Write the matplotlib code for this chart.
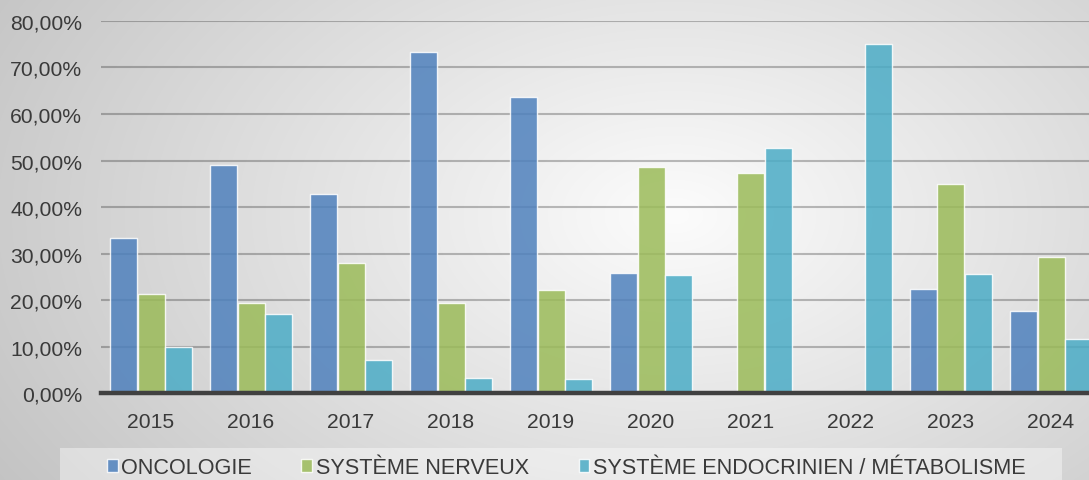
import numpy as np
import matplotlib
matplotlib.use("Agg")
import matplotlib.pyplot as plt
from matplotlib.patches import Rectangle, Patch
from matplotlib.ticker import FuncFormatter, MultipleLocator

years = ["2015", "2016", "2017", "2018", "2019", "2020", "2021", "2022", "2023", "2024"]
oncologie = [33.4, 49.1, 42.9, 73.3, 63.6, 25.8, 0.0, 0.0, 22.5, 17.7]
systeme_nerveux = [21.4, 19.5, 28.0, 19.5, 22.3, 48.6, 47.4, 0.0, 45.0, 29.3]
endocrinien = [10.0, 17.1, 7.1, 3.4, 3.1, 25.5, 52.6, 75.0, 25.6, 11.6]
series_labels = ["ONCOLOGIE", "SYSTÈME NERVEUX", "SYSTÈME ENDOCRINIEN / MÉTABOLISME"]
colors = ["#4f81bd", "#9bbb59", "#4bacc6"]

plt.rcParams["font.family"] = ["Liberation Sans", "DejaVu Sans"]
W, H = 1089, 481
fig = plt.figure(figsize=(W / 100, H / 100), dpi=100)

# radial grey background
bg = fig.add_axes([0, 0, 1, 1], zorder=-10)
xx, yy = np.meshgrid(np.linspace(0, 1, W), np.linspace(1, 0, H))
t = np.sqrt(((xx - 0.62) / 0.7) ** 2 + ((yy - 0.55) / 1.0) ** 2)
shade = np.clip(252 - 54 * t, 185, 252) / 255.0
bg.imshow(np.dstack([shade, shade, shade]), extent=[0, 1, 0, 1], aspect="auto")
bg.axis("off")

# legend panel
fig.patches.append(Rectangle((60 / W, 0), (1062 - 60) / W, 1 - 449 / H,
                             transform=fig.transFigure, facecolor="white",
                             alpha=0.4, edgecolor="none", zorder=-5))

left = 101 / W
bottom = 1 - 394.4 / H
top = 1 - 21.9 / H
ax = fig.add_axes([left, bottom, 1000 / W, top - bottom])
ax.patch.set_alpha(0)

x = np.arange(len(years))
width = 0.27
offset = 0.275
for i, vals in enumerate([oncologie, systeme_nerveux, endocrinien]):
    ax.bar(x + (i - 1) * offset, vals, width, color=colors[i], alpha=0.85,
           edgecolor=(1, 1, 1, 0.5), linewidth=1.0, zorder=3)

ax.set_xlim(-0.5, len(years) - 0.5)
ax.set_ylim(0, 80)
ax.yaxis.set_major_locator(MultipleLocator(10))
ax.yaxis.set_major_formatter(FuncFormatter(lambda v, p: f"{v:.2f}".replace(".", ",") + "%"))
ax.grid(axis="y", color="black", alpha=0.25, linewidth=1.5, zorder=0)
ax.set_axisbelow(True)
ax.set_xticks(x)
ax.set_xticklabels(years)
ax.tick_params(axis="both", length=0, labelsize=15.2, colors="#3a3a3a")
ax.tick_params(axis="y", pad=13.5)
ax.tick_params(axis="x", pad=13.5)
for s in ["left", "right", "top"]:
    ax.spines[s].set_visible(False)
ax.spines["bottom"].set_color("#404040")
ax.spines["bottom"].set_linewidth(3.2)
ax.spines["bottom"].set_zorder(5)

handles = [Patch(facecolor=c, alpha=0.85, edgecolor=(1, 1, 1, 0.5)) for c in colors]
fig.legend(handles, series_labels, loc="center", bbox_to_anchor=(566 / W, 1 - 469 / H),
           ncol=3, frameon=False, fontsize=15.6, handlelength=0.5, handleheight=0.55,
           handletextpad=0.15, columnspacing=2.3, labelcolor="#3a3a3a")

fig.savefig("out.png", dpi=100)
